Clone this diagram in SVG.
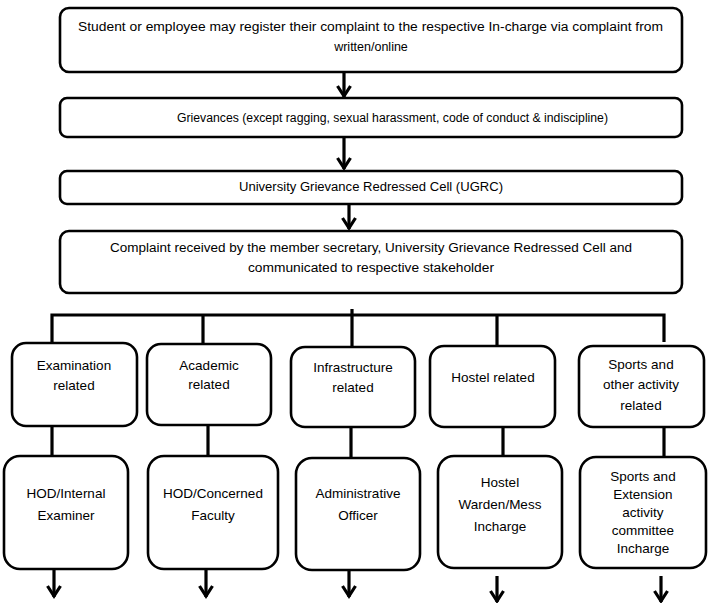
<svg xmlns="http://www.w3.org/2000/svg" width="713" height="603" viewBox="0 0 713 603">
<style>
.box{fill:#fff;stroke:#000;stroke-width:2.6}
.t{font-family:"Liberation Sans",Arial,sans-serif;font-size:12.5px;fill:#000}
.s{font-family:"Liberation Sans",Arial,sans-serif;font-size:13.5px;fill:#000;text-anchor:middle}
.c{fill:none;stroke:#000;stroke-width:3.2}
</style>
<defs>
<marker id="arr" markerUnits="userSpaceOnUse" markerWidth="16" markerHeight="18" refX="13" refY="8" orient="auto" overflow="visible">
<path d="M2,1.5 L12,8 L2,14.5" fill="none" stroke="#000" stroke-width="3.2" stroke-linejoin="miter"/>
</marker>
</defs>
<rect width="713" height="603" fill="#fff"/>
<g id="connectors">
<path class="c" d="M344,73 V97" marker-end="url(#arr)"/>
<path class="c" d="M344,137 V169" marker-end="url(#arr)"/>
<path class="c" d="M349,205 V229" marker-end="url(#arr)"/>
<path class="c" d="M52,343 V315 H664 V342"/>
<path class="c" d="M203,315 V344"/>
<path class="c" d="M352,309 V347"/>
<path class="c" d="M497,315 V346"/>
<path class="c" d="M52,426 V456"/>
<path class="c" d="M208,422 V456"/>
<path class="c" d="M351,424 V458"/>
<path class="c" d="M503,425 V456"/>
<path class="c" d="M664,425 V457"/>
<path class="c" d="M54,570 V597" marker-end="url(#arr)"/>
<path class="c" d="M206,570 V597" marker-end="url(#arr)"/>
<path class="c" d="M349,571 V597" marker-end="url(#arr)"/>
<path class="c" d="M497,576 V602" marker-end="url(#arr)"/>
<path class="c" d="M661,576 V602" marker-end="url(#arr)"/>
</g>
<g id="n1"><rect class="box" x="60" y="8" width="622" height="64" rx="9"/>
<text class="t" x="78" y="31" textLength="585" lengthAdjust="spacingAndGlyphs">Student or employee may register their complaint to the respective In-charge via complaint from</text>
<text class="t" x="371" y="51" text-anchor="middle">written/online</text></g>
<g id="n2"><rect class="box" x="60" y="98" width="622" height="39" rx="7"/>
<text class="t" x="177" y="122" textLength="431" lengthAdjust="spacingAndGlyphs">Grievances (except ragging, sexual harassment, code of conduct &amp; indiscipline)</text></g>
<g id="n3"><rect class="box" x="60" y="171" width="622" height="33" rx="7"/>
<text class="t" x="239" y="191" textLength="264" lengthAdjust="spacingAndGlyphs">University Grievance Redressed Cell (UGRC)</text></g>
<g id="n4"><rect class="box" x="60" y="231" width="622" height="62" rx="9"/>
<text class="t" x="110" y="252" textLength="522" lengthAdjust="spacingAndGlyphs">Complaint received by the member secretary, University Grievance Redressed Cell and</text>
<text class="t" x="248" y="272" textLength="246" lengthAdjust="spacingAndGlyphs">communicated to respective stakeholder</text></g>
<g id="e1"><rect class="box" x="12" y="343" width="125" height="83" rx="14"/>
<text class="s" x="74" y="370">Examination</text><text class="s" x="74" y="390">related</text></g>
<g id="e2"><rect class="box" x="147" y="344" width="124" height="81" rx="14"/>
<text class="s" x="209" y="370">Academic</text><text class="s" x="209" y="389">related</text></g>
<g id="e3"><rect class="box" x="291" y="347" width="124" height="80" rx="14"/>
<text class="s" x="353" y="372">Infrastructure</text><text class="s" x="353" y="392">related</text></g>
<g id="e4"><rect class="box" x="430" y="346" width="125" height="81" rx="14"/>
<text class="s" x="493" y="382">Hostel related</text></g>
<g id="e5"><rect class="box" x="579" y="346" width="125" height="81" rx="14"/>
<text class="s" x="641" y="369">Sports and</text><text class="s" x="641" y="389">other activity</text><text class="s" x="641" y="410">related</text></g>
<g id="b1"><rect class="box" x="4" y="456" width="124" height="113" rx="16"/>
<text class="s" x="66" y="498">HOD/Internal</text><text class="s" x="66" y="520">Examiner</text></g>
<g id="b2"><rect class="box" x="148" y="456" width="130" height="113" rx="16"/>
<text class="s" x="213" y="498">HOD/Concerned</text><text class="s" x="213" y="520">Faculty</text></g>
<g id="b3"><rect class="box" x="296" y="458" width="124" height="112" rx="16"/>
<text class="s" x="358" y="498">Administrative</text><text class="s" x="358" y="520">Officer</text></g>
<g id="b4"><rect class="box" x="438" y="456" width="124" height="112" rx="16"/>
<text class="s" x="500" y="487">Hostel</text><text class="s" x="500" y="509">Warden/Mess</text><text class="s" x="500" y="531">Incharge</text></g>
<g id="b5"><rect class="box" x="580" y="457" width="126" height="111" rx="16"/>
<text class="s" x="643" y="481">Sports and</text><text class="s" x="643" y="499">Extension</text><text class="s" x="643" y="517">activity</text><text class="s" x="643" y="535">committee</text><text class="s" x="643" y="553">Incharge</text></g>
</svg>
